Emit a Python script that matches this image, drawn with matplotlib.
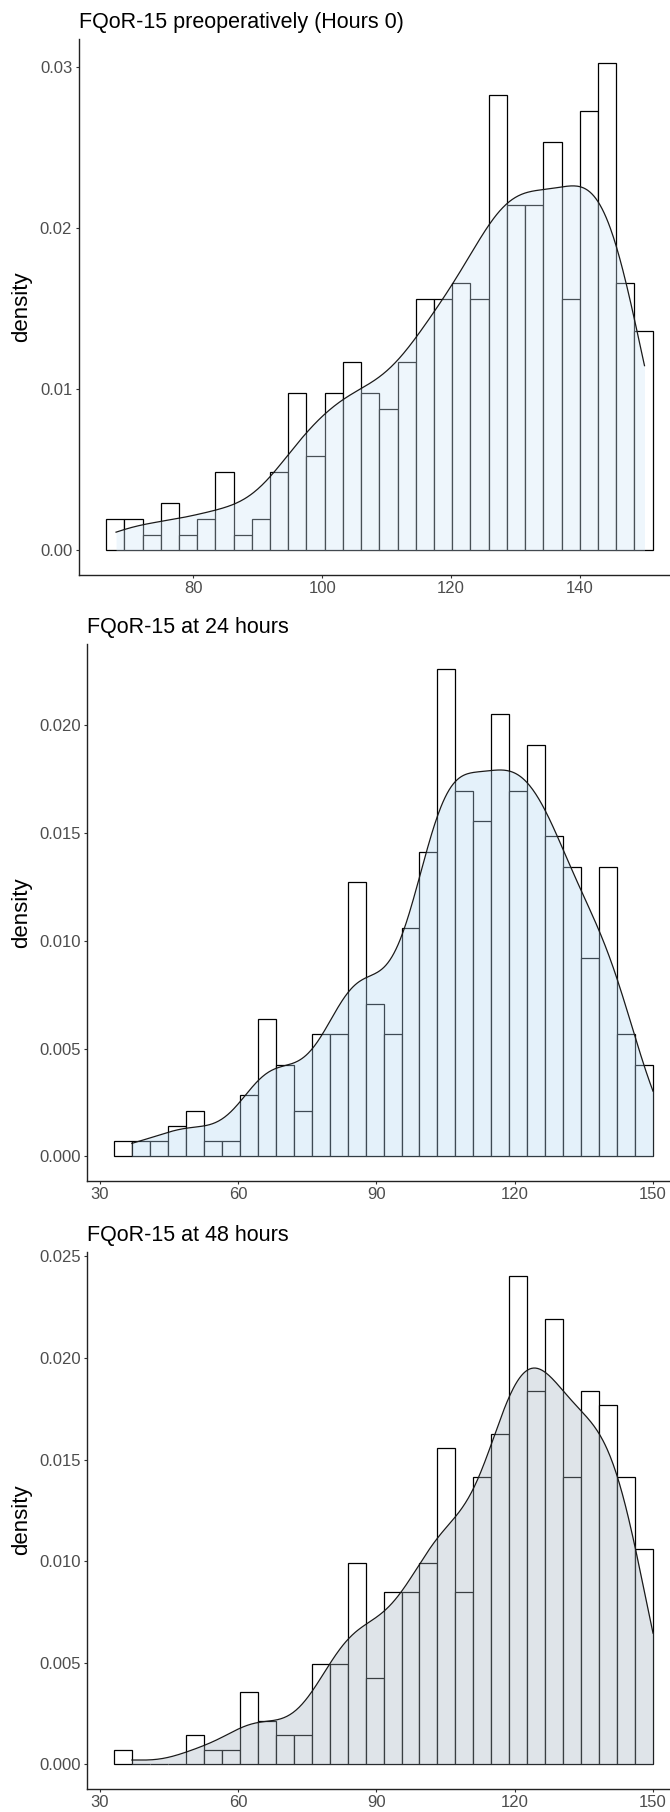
import numpy as np
import matplotlib
matplotlib.use("Agg")
import matplotlib.pyplot as plt
from matplotlib.ticker import FormatStrFormatter

plt.rcParams['font.family'] = ['Liberation Sans', 'DejaVu Sans']

# FQoR-15 scores, counts per histogram bin (30 bins, ggplot default breaks)
titles = ["FQoR-15 preoperatively (Hours 0)", "FQoR-15 at 24 hours", "FQoR-15 at 48 hours"]
score_min = [68, 37, 37]
score_max = [150, 150, 150]
counts_h0 = [2, 2, 1, 3, 1, 2, 5, 1, 2, 5, 10, 6, 10, 12, 10, 9, 12, 16, 16, 17,
             16, 29, 22, 22, 26, 16, 28, 31, 17, 14]
counts_h24 = [1, 1, 1, 2, 3, 1, 1, 4, 9, 6, 3, 8, 8, 18, 10, 8, 15, 20, 32, 24,
              22, 29, 24, 27, 21, 19, 13, 19, 8, 6]
counts_h48 = [1, 0, 0, 0, 2, 1, 1, 5, 3, 2, 2, 7, 7, 14, 6, 12, 12, 14, 22, 12,
              20, 23, 34, 26, 31, 20, 26, 25, 20, 15]
all_counts = [counts_h0, counts_h24, counts_h48]
x_ticks = [[80, 100, 120, 140], [30, 60, 90, 120, 150], [30, 60, 90, 120, 150]]
y_ticks = [[0, 0.01, 0.02, 0.03], [0, 0.005, 0.01, 0.015, 0.02],
           [0, 0.005, 0.01, 0.015, 0.02, 0.025]]
y_fmt = ["%.2f", "%.3f", "%.3f"]
fills = ["#cfe6f9", "#b2d7f3", "#a4b2c0"]

# axes boxes in figure fractions
boxes = [[0.1175, 0.6828, 0.8975, 0.2956],
         [0.1299, 0.3484, 0.8851, 0.2960],
         [0.1299, 0.0129, 0.8851, 0.2964]]
ylab_x = [-0.0768, -0.0919, -0.0919]


def gg_edges(lo, hi, nbins):
    # same break rule as ggplot2's stat_bin(bins = 30)
    width = (hi - lo) / (nbins - 1)
    boundary = width / 2
    origin = boundary + np.floor((lo - boundary) / width) * width
    return origin + width * np.arange(nbins + 1)


def bw_nrd0(x):
    sd = np.std(x, ddof=1)
    q75, q25 = np.percentile(x, [75, 25])
    return 0.9 * min(sd, (q75 - q25) / 1.34) * len(x) ** -0.2


fig = plt.figure(figsize=(6.7, 18.12), dpi=100)

for i in range(3):
    ax = fig.add_axes(boxes[i])
    counts = np.array(all_counts[i])
    n = counts.sum()
    edges = gg_edges(score_min[i], score_max[i], len(counts))
    width = edges[1] - edges[0]
    dens = counts / (n * width)
    ax.bar(edges[:-1], dens, width=width, align='edge', color='white',
           edgecolor='black', linewidth=0.9, zorder=1)

    # density curve from the binned scores
    samples = np.repeat((edges[:-1] + edges[1:]) / 2, counts)
    h = bw_nrd0(samples)
    xs = np.linspace(score_min[i], score_max[i], 512)
    kde = np.exp(-0.5 * ((xs[:, None] - samples[None, :]) / h) ** 2).sum(axis=1)
    kde = kde / (n * h * np.sqrt(2 * np.pi))
    ax.fill_between(xs, 0, kde, color=fills[i], alpha=0.35, linewidth=0, zorder=2)
    ax.plot(xs, kde, color='#1a1a1a', linewidth=0.9, zorder=3)

    top = max(dens.max(), kde.max())
    span = edges[-1] - edges[0]
    ax.set_xlim(edges[0] - 0.05 * span, edges[-1] + 0.05 * span)
    ax.set_ylim(-0.05 * top, 1.05 * top)
    ax.set_xticks(x_ticks[i])
    ax.set_yticks(y_ticks[i])
    ax.yaxis.set_major_formatter(FormatStrFormatter(y_fmt[i]))

    for s in ['top', 'right']:
        ax.spines[s].set_visible(False)
    for s in ['left', 'bottom']:
        ax.spines[s].set_linewidth(1.0)
        ax.spines[s].set_color('#222222')
    ax.tick_params(length=2.2, width=0.8, color='#333333', labelcolor='#4d4d4d',
                   labelsize=12, pad=2.5)
    ax.set_ylabel('density', fontsize=16, color='black')
    ax.yaxis.set_label_coords(ylab_x[i], 0.5)
    ax.set_title(titles[i], loc='left', fontsize=15.5, pad=7.9, color='black')

fig.savefig('out.png', dpi=100)
